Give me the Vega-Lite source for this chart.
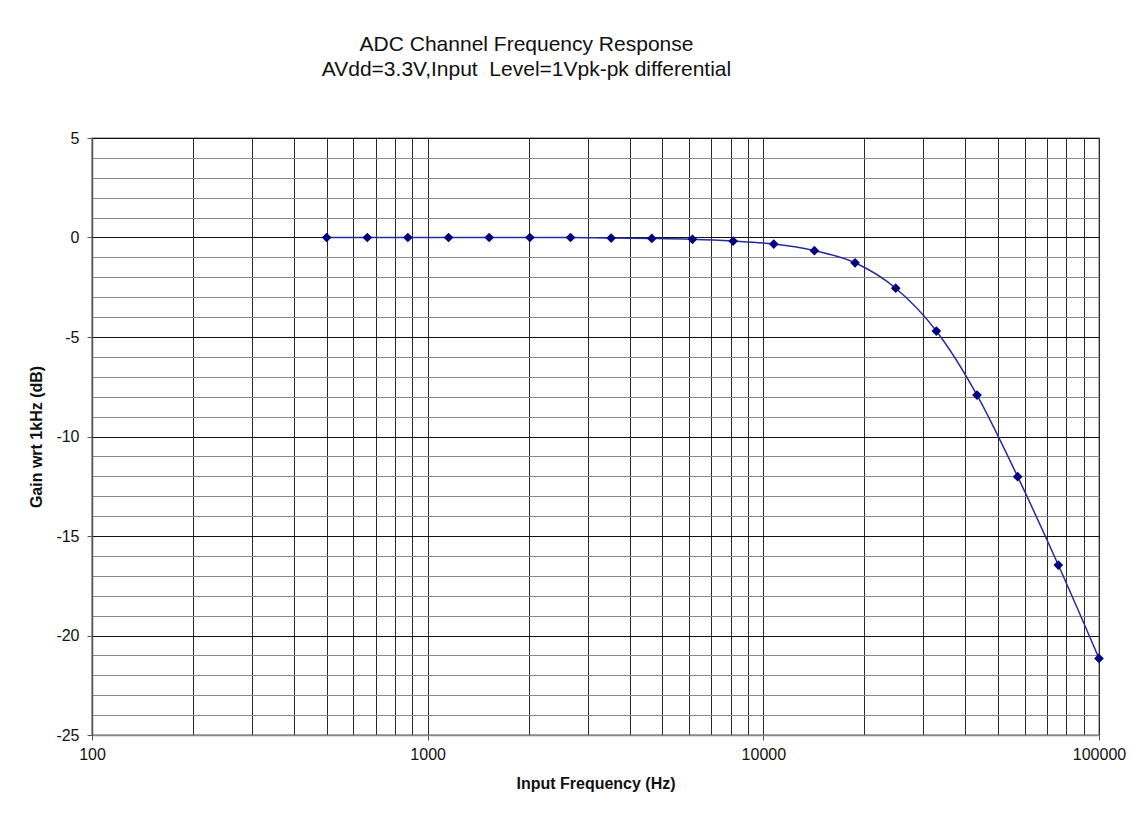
{
  "$schema": "https://vega.github.io/schema/vega-lite/v6.json",
  "autosize": "none",
  "width": 1007,
  "height": 597,
  "padding": {"left": 92, "top": 138, "right": 31, "bottom": 82},
  "background": "white",
  "title": {
    "text": ["ADC Channel Frequency Response", "AVdd=3.3V,Input\u00a0 Level=1Vpk-pk differential"],
    "font": "Liberation Sans",
    "fontSize": 21,
    "fontWeight": "normal",
    "color": "#111",
    "anchor": "middle",
    "frame": "group",
    "dx": -69,
    "offset": 50,
    "lineHeight": 25
  },
  "config": {
    "view": {"stroke": "#999", "strokeWidth": 1.5},
    "axis": {
      "labelFont": "Liberation Sans",
      "titleFont": "Liberation Sans",
      "labelFontSize": 16,
      "titleFontSize": 16,
      "titleFontWeight": "bold",
      "labelColor": "#111",
      "titleColor": "#111"
    }
  },
  "data": {
    "values": [
      {"freq": 500, "gain": 0},
      {"freq": 661, "gain": 0},
      {"freq": 873, "gain": 0},
      {"freq": 1154, "gain": 0},
      {"freq": 1525, "gain": 0},
      {"freq": 2016, "gain": 0},
      {"freq": 2664, "gain": 0},
      {"freq": 3521, "gain": -0.03},
      {"freq": 4653, "gain": -0.05},
      {"freq": 6150, "gain": -0.09},
      {"freq": 8128, "gain": -0.18},
      {"freq": 10742, "gain": -0.33},
      {"freq": 14196, "gain": -0.66},
      {"freq": 18762, "gain": -1.27},
      {"freq": 24796, "gain": -2.55},
      {"freq": 32771, "gain": -4.7},
      {"freq": 43310, "gain": -7.92},
      {"freq": 57239, "gain": -12.02},
      {"freq": 75648, "gain": -16.46},
      {"freq": 100000, "gain": -21.15}
    ]
  },
  "encoding": {
    "x": {
      "field": "freq",
      "type": "quantitative",
      "scale": {"type": "log", "domain": [100, 100000], "nice": false},
      "axis": {
        "title": "Input Frequency (Hz)",
        "titlePadding": 13,
        "values": [100,200,300,400,500,600,700,800,900,1000,2000,3000,4000,5000,6000,7000,8000,9000,10000,20000,30000,40000,50000,60000,70000,80000,90000,100000],
        "labelExpr": "(datum.value == 100 || datum.value == 1000 || datum.value == 10000 || datum.value == 100000) ? format(datum.value, 'd') : ''",
        "labelOverlap": false,
        "labelFlush": false,
        "labelPadding": 6,
        "tickSize": 5,
        "tickColor": "#555",
        "tickOpacity": {"condition": {"test": "datum.value == 100 || datum.value == 1000 || datum.value == 10000 || datum.value == 100000", "value": 1}, "value": 0},
        "domainColor": "#888",
        "domainWidth": 1.5,
        "grid": true,
        "gridColor": "#2a2a2a",
        "gridWidth": 1
      }
    },
    "y": {
      "field": "gain",
      "type": "quantitative",
      "scale": {"domain": [-25, 5], "nice": false, "zero": false},
      "axis": {
        "title": "Gain wrt 1kHz (dB)",
        "titlePadding": 11,
        "values": [-25,-24,-23,-22,-21,-20,-19,-18,-17,-16,-15,-14,-13,-12,-11,-10,-9,-8,-7,-6,-5,-4,-3,-2,-1,0,1,2,3,4,5],
        "labelExpr": "datum.value % 5 === 0 ? '' + datum.value : ''",
        "labelOverlap": false,
        "labelFlush": false,
        "labelPadding": 8,
        "tickSize": 5,
        "tickColor": "#555",
        "tickOpacity": {"condition": {"test": "datum.value % 5 === 0", "value": 1}, "value": 0},
        "domainColor": "#555",
        "domainWidth": 1.5,
        "grid": true,
        "gridColor": {"condition": {"test": "datum.value % 5 === 0", "value": "#111"}, "value": "#8a8a8a"},
        "gridWidth": 1
      }
    }
  },
  "layer": [
    {
      "mark": {"type": "line", "interpolate": "monotone", "color": "#2a2a9c", "strokeWidth": 1.5}
    },
    {
      "mark": {"type": "point", "shape": "diamond", "filled": true, "size": 95, "color": "#000080", "opacity": 1}
    }
  ]
}
